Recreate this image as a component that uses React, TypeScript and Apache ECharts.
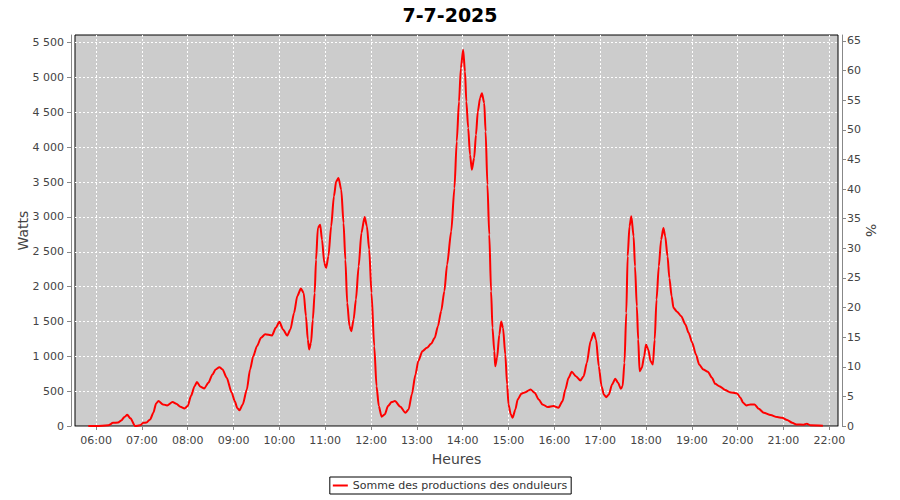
import React, { useEffect, useRef } from "react";
import * as echarts from "echarts";

const title = "7-7-2025";
const seriesName = "Somme des productions des onduleurs";

// time of day in decimal hours
const hours = [
  5.83, 6.0, 6.27, 6.37, 6.48, 6.55, 6.62, 6.68, 6.75, 6.85, 6.96, 7.03, 7.1, 7.18, 7.25, 7.31, 7.36, 7.46, 7.55, 7.67,
  7.75, 7.84, 7.93, 8.0, 8.07, 8.15, 8.2, 8.28, 8.36, 8.45, 8.54, 8.61, 8.69, 8.76, 8.85, 8.96, 9.03, 9.08, 9.13, 9.2,
  9.29, 9.36, 9.43, 9.51, 9.6, 9.69, 9.84, 9.92, 10.0, 10.08, 10.17, 10.24, 10.32, 10.39, 10.47, 10.53, 10.58, 10.62, 10.65, 10.69,
  10.73, 10.77, 10.8, 10.84, 10.89, 10.93, 10.98, 11.02, 11.07, 11.13, 11.19, 11.24, 11.29, 11.35, 11.4, 11.44, 11.48, 11.53, 11.57, 11.62,
  11.67, 11.73, 11.79, 11.86, 11.91, 11.96, 12.01, 12.07, 12.12, 12.17, 12.23, 12.3, 12.37, 12.45, 12.52, 12.64, 12.75, 12.82, 12.89, 12.97,
  13.03, 13.12, 13.22, 13.31, 13.39, 13.46, 13.53, 13.6, 13.66, 13.75, 13.82, 13.87, 13.92, 13.96, 14.01, 14.05, 14.08, 14.12, 14.16, 14.2,
  14.25, 14.29, 14.33, 14.38, 14.42, 14.47, 14.5, 14.54, 14.58, 14.62, 14.65, 14.69, 14.71, 14.75, 14.8, 14.84, 14.88, 14.93, 14.97, 15.0,
  15.05, 15.09, 15.15, 15.2, 15.28, 15.37, 15.48, 15.57, 15.66, 15.74, 15.86, 15.98, 16.09, 16.18, 16.24, 16.31, 16.38, 16.47, 16.57, 16.64,
  16.71, 16.79, 16.86, 16.91, 16.97, 17.03, 17.08, 17.13, 17.19, 17.26, 17.33, 17.39, 17.45, 17.49, 17.53, 17.57, 17.6, 17.64, 17.68, 17.73,
  17.76, 17.8, 17.83, 17.86, 17.91, 17.96, 18.0, 18.05, 18.1, 18.15, 18.19, 18.23, 18.28, 18.33, 18.38, 18.42, 18.47, 18.51, 18.56, 18.6,
  18.68, 18.77, 18.86, 18.93, 19.01, 19.09, 19.16, 19.25, 19.35, 19.44, 19.51, 19.6, 19.73, 19.83, 19.99, 20.06, 20.12, 20.19, 20.28, 20.37,
  20.46, 20.57, 20.72, 20.86, 20.97, 21.08, 21.19, 21.28, 21.44, 21.51, 21.59, 21.86,
];

// total power in watts
const watts = [
  0, 0, 10, 45, 50, 80, 130, 160, 110, 0, 10, 45, 50, 95, 190, 324, 357, 310, 295, 343,
  320, 276, 252, 286, 429, 572, 630, 563, 539, 620, 740, 811, 844, 811, 692, 477, 350, 260, 225, 310,
  524, 811, 1002, 1145, 1265, 1317, 1300, 1409, 1494, 1384, 1298, 1384, 1623, 1862, 1972, 1910, 1575, 1241, 1098, 1194,
  1528, 1910, 2387, 2842, 2889, 2674, 2340, 2268, 2435, 2865, 3295, 3510, 3558, 3390, 2913, 2387, 1767, 1432, 1360, 1528,
  1814, 2291, 2770, 2999, 2865, 2531, 1910, 1145, 572, 286, 133, 166, 286, 343, 357, 276, 190, 238, 453, 740,
  930, 1073, 1122, 1179, 1265, 1432, 1647, 1933, 2316, 2793, 3415, 4083, 4656, 5134, 5397, 5086, 4656, 4275, 3892, 3677,
  3845, 4179, 4513, 4705, 4776, 4633, 4226, 3462, 2746, 1933, 1409, 1073, 858, 979, 1313, 1500, 1409, 1026, 596, 310,
  166, 119, 238, 381, 463, 486, 524, 477, 381, 310, 271, 286, 262, 357, 524, 692, 778, 715, 653, 715,
  907, 1217, 1337, 1241, 858, 572, 453, 414, 453, 596, 678, 620, 535, 572, 907, 1623, 2435, 2865, 3008, 2721,
  2291, 1718, 1241, 787, 835, 1002, 1169, 1098, 930, 883, 1241, 1814, 2291, 2674, 2842, 2721, 2435, 2125, 1862, 1695,
  1638, 1575, 1456, 1337, 1194, 1026, 883, 811, 778, 692, 606, 572, 515, 486, 467, 405, 334, 295, 310, 310,
  248, 190, 157, 128, 119, 85, 47, 23, 19, 33, 10, 5,
];

const hourTicks = [6, 7, 8, 9, 10, 11, 12, 13, 14, 15, 16, 17, 18, 19, 20, 21, 22];
const wattTicks = [0, 500, 1000, 1500, 2000, 2500, 3000, 3500, 4000, 4500, 5000, 5500];
const pctTicks = [0, 5, 10, 15, 20, 25, 30, 35, 40, 45, 50, 55, 60, 65];

const FONT = "DejaVu Sans";

function fmtHour(v: number) {
  const h = Math.round(v);
  return (h < 10 ? "0" : "") + h + ":00";
}
function fmtWatts(v: number) {
  if (v >= 1000) {
    const r = v % 1000;
    return Math.floor(v / 1000) + " " + String(r).padStart(3, "0");
  }
  return String(v);
}

export default function App() {
  const ref = useRef<HTMLDivElement>(null);
  useEffect(() => {
    const chart = echarts.init(ref.current!, null, { renderer: "svg" });
    const data = hours.map((h, i) => [h, watts[i]]);
    const axisGray = "#888888";
    chart.setOption({
      animation: false,
      textStyle: { fontFamily: FONT },
      title: {
        text: title,
        left: "center",
        top: 0,
        textStyle: { fontFamily: FONT, fontSize: 19, fontWeight: "bold", color: "#000" },
      },
      legend: {
        data: [seriesName],
        left: "center",
        top: 477,
        icon: "rect",
        itemWidth: 15,
        itemHeight: 2,
        borderColor: "#000",
        borderWidth: 1,
        padding: [3, 4, 3, 3],
        textStyle: { fontFamily: FONT, fontSize: 11, color: "#333" },
      },
      grid: {
        left: 75,
        top: 35,
        width: 763,
        height: 391,
        show: true,
        backgroundColor: "#cccccc",
        borderColor: "#000",
        borderWidth: 1,
      },
      xAxis: {
        type: "value",
        min: 5.54,
        max: 22.19,
        offset: 4,
        name: "Heures",
        nameLocation: "middle",
        nameGap: 22,
        nameMoveOverlap: false,
        nameTextStyle: { fontFamily: FONT, fontSize: 14, color: "#444" },
        axisLine: { show: true, lineStyle: { color: axisGray } },
        axisTick: { show: true, length: 4, customValues: hourTicks, lineStyle: { color: axisGray } },
        axisLabel: {
          customValues: hourTicks,
          formatter: fmtHour,
          fontFamily: FONT,
          fontSize: 11,
          color: "#444",
          margin: 5,
        },
        splitLine: { show: true, lineStyle: { color: "#ffffff", type: [2, 2], width: 1 } },
      },
      yAxis: [
        {
          type: "value",
          min: 0,
          max: 5610,
          offset: 4,
          position: "left",
          name: "Watts",
          nameLocation: "middle",
          nameGap: 41,
          nameMoveOverlap: false,
          nameTextStyle: { fontFamily: FONT, fontSize: 14, color: "#444" },
          axisLine: { show: true, lineStyle: { color: axisGray } },
          axisTick: { show: true, length: 4, customValues: wattTicks, lineStyle: { color: axisGray } },
          axisLabel: {
            customValues: wattTicks,
            formatter: fmtWatts,
            fontFamily: FONT,
            fontSize: 11,
            color: "#444",
            margin: 7,
          },
          splitLine: { show: true, lineStyle: { color: "#ffffff", type: [2, 2], width: 1 } },
        },
        {
          type: "value",
          min: 0,
          max: 66,
          offset: 4,
          position: "right",
          name: "%",
          nameLocation: "middle",
          nameRotate: -90,
          nameGap: 22,
          nameMoveOverlap: false,
          nameTextStyle: { fontFamily: FONT, fontSize: 14, color: "#444" },
          axisLine: { show: true, lineStyle: { color: axisGray } },
          axisTick: { show: true, length: 4, customValues: pctTicks, lineStyle: { color: axisGray } },
          axisLabel: {
            customValues: pctTicks,
            fontFamily: FONT,
            fontSize: 11,
            color: "#444",
            margin: 5,
          },
          splitLine: { show: false },
        },
      ],
      series: [
        {
          name: seriesName,
          type: "line",
          data,
          showSymbol: false,
          smooth: 0.25,
          smoothMonotone: "x",
          color: "#ff0000",
          lineStyle: { color: "#ff0000", width: 2 },
        },
      ],
    });
    return () => chart.dispose();
  }, []);
  return (
    <div
      ref={ref}
      style={{ position: "absolute", left: 0, top: 0, width: 900, height: 500 }}
    />
  );
}
